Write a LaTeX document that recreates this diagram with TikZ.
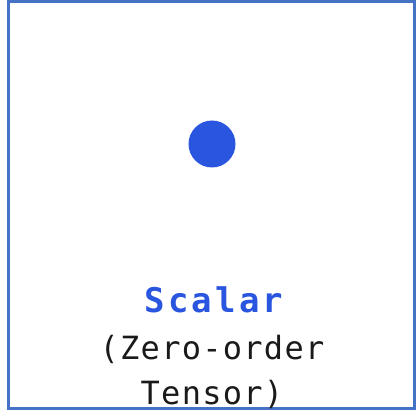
\documentclass[tikz,border=0pt]{standalone}
\usepackage{fontspec}
\usepackage{xcolor}
\setmonofont{DejaVu Sans Mono}
\definecolor{frameBlue}{HTML}{4472C4}
\definecolor{dotBlue}{HTML}{2A56DF}
\definecolor{inkDark}{HTML}{1A1A1A}
\tikzset{
  tensorFrame/.style={draw=frameBlue,line width=3pt},
  scalarDot/.style={circle,fill=dotBlue,minimum size=47pt,inner sep=0pt},
  titleText/.style={font=\ttfamily\bfseries\addfontfeature{LetterSpace=9}\fontsize{34}{34}\selectfont,text=dotBlue,anchor=base,inner sep=0pt},
  noteText/.style={font=\ttfamily\addfontfeature{LetterSpace=4}\fontsize{32}{32}\selectfont,text=inkDark,anchor=base,inner sep=0pt}
}
\begin{document}
\begin{tikzpicture}[x=1pt,y=-1pt]
    \useasboundingbox (0,0) rectangle (416,411);
    \draw[tensorFrame] (8.5,1.5) rectangle (414.5,409);
    \node[scalarDot] (dot) at (212,144) {};
    \node[titleText] (title) at (214,313) {Scalar};
    \node[noteText] (order) at (212,360) {(Zero-order};
    \node[noteText] (tensor) at (212,405) {Tensor)};
  \end{tikzpicture}
\end{document}
